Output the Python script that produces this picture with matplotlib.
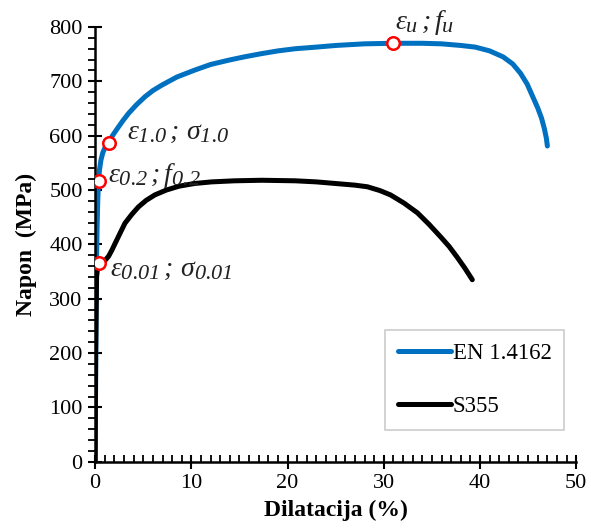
import matplotlib
matplotlib.use("Agg")
import matplotlib.pyplot as plt
from matplotlib.ticker import MultipleLocator
try:
    import matplotlib._mathtext as _mt
    _mt.SHRINK_FACTOR = 0.8
except Exception:
    pass

plt.rcParams['font.family'] = ['Liberation Serif', 'DejaVu Serif']
plt.rcParams['mathtext.fontset'] = 'custom'
plt.rcParams['mathtext.rm'] = 'Liberation Serif:italic'
plt.rcParams['mathtext.it'] = 'Liberation Serif:italic'
plt.rcParams['mathtext.bf'] = 'Liberation Serif:bold'
plt.rcParams['mathtext.default'] = 'it'

# EN 1.4162 (strain %, stress MPa)
en_strain = [0, 0.1, 0.15, 0.2, 0.27, 0.35, 0.45, 0.6, 0.8, 1.05, 1.39, 1.8, 2.3, 2.9,
             3.47, 4.3, 5.2, 6.0, 6.93, 8.5, 10.4, 12, 13.9, 15.5, 17.3, 19, 20.8,
             23, 25, 28, 31, 34, 36, 38, 39.5, 41, 42.4, 43.4, 44.2, 44.9, 45.5,
             46.0, 46.4, 46.7, 46.9, 47]
en_stress = [0, 300, 380, 430, 480, 517, 537, 555, 569, 579, 587, 600, 613, 628,
             641, 657, 672, 683, 693, 708, 721, 731, 739, 745, 751, 756, 760,
             763, 766, 769, 770, 770, 769, 766, 763, 756, 745, 732, 715, 695, 671,
             651, 632, 612, 595, 581]

# S355
s_strain = [0, 0.05, 0.15, 0.3, 0.6, 1.0, 1.39, 1.7, 2.08, 2.6, 3.1, 3.8, 4.5, 5.3,
            6.2, 7.4, 8.7, 10.3, 12.1, 14.5, 17.3, 20.8, 23, 25, 27, 28.3, 29.6,
            30.7, 32.1, 33.5, 34.7, 35.9, 36.8, 37.6, 38.4, 39.2]
s_stress = [0, 200, 340, 366, 365, 370, 378, 388, 402, 421, 439, 455, 469, 481,
            491, 500, 507, 512, 515, 517, 518, 517, 515, 512, 509, 506, 499,
            491, 476, 458, 437, 414, 396, 377, 357, 335]

# characteristic points
pt_strain = [0.35, 0.35, 1.39, 31.0]
pt_stress = [366, 517, 587, 770]
pt_labels = [r'$\varepsilon_{0.01}\,;\,\sigma_{0.01}$',
             r'$\varepsilon_{0.2}\,;f_{0.2}$',
             r'$\varepsilon_{1.0}\,;\,\sigma_{1.0}$',
             r'$\varepsilon_{u}\,;f_{u}$']
pt_offsets = [(1.2, -13), (1.0, 10), (1.9, 18), (0.2, 39)]

fig = plt.figure(figsize=(5.91, 5.29), dpi=100)
ax = fig.add_axes([0.161, 0.127, 0.814, 0.822])

ax.plot(en_strain, en_stress, color='#0070C0', lw=3.6, label='EN 1.4162',
        solid_capstyle='round', zorder=2)
ax.plot(s_strain, s_stress, color='black', lw=3.6, label='S355',
        solid_capstyle='round', zorder=3)
ax.plot(pt_strain, pt_stress, linestyle='none', marker='o', ms=9,
        mfc='white', mec='#FF0000', mew=1.8, zorder=5)

for xs, ys, lab, off in zip(pt_strain, pt_stress, pt_labels, pt_offsets):
    ax.text(xs + off[0], ys + off[1], lab, fontsize=20, ha='left', va='center',
            color='#222222', zorder=6)

ax.set_xlim(0, 50)
ax.set_ylim(0, 800)
ax.xaxis.set_major_locator(MultipleLocator(10))
ax.xaxis.set_minor_locator(MultipleLocator(1))
ax.yaxis.set_major_locator(MultipleLocator(100))
ax.yaxis.set_minor_locator(MultipleLocator(20))
ax.tick_params(axis='both', which='major', direction='inout', length=10, width=1.5,
               labelsize=16, pad=4)
ax.tick_params(axis='x', which='minor', direction='in', length=5, width=1.3)
ax.tick_params(axis='y', which='minor', direction='out', length=5, width=1.3)
for s in ['top', 'right']:
    ax.spines[s].set_visible(False)
for s in ['left', 'bottom']:
    ax.spines[s].set_linewidth(1.8)

ax.set_xlabel('Dilatacija (%)', fontsize=17, fontweight='bold', labelpad=5)
ax.set_ylabel('Napon  (MPa)', fontsize=17, fontweight='bold', labelpad=9)

leg = ax.legend(loc='lower left', bbox_to_anchor=(0.603, 0.074), fontsize=16.5,
                frameon=True, fancybox=False, edgecolor='#BFBFBF',
                handlelength=2.3, handletextpad=0.1, labelspacing=1.4,
                borderpad=0.55, borderaxespad=0)
leg.get_frame().set_linewidth(1.2)

fig.savefig('out.png', dpi=100)
